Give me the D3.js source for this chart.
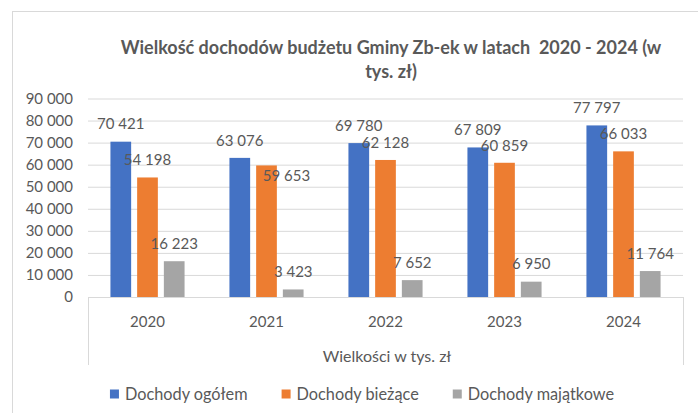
<!DOCTYPE html>
<html>
<head>
<meta charset="utf-8">
<script src="https://cdn.jsdelivr.net/npm/d3@7"></script>
<style>
  body { margin: 0; background: #fff; }
  svg text { font-family: Lato, "Open Sans", sans-serif; fill: #595959; }
</style>
</head>
<body>
<div id="chart"></div>
<script>
// data
const years = ["2020", "2021", "2022", "2023", "2024"];
const seriesNames = ["Dochody ogółem", "Dochody bieżące", "Dochody majątkowe"];
const ogolem = [70421, 63076, 69780, 67809, 77797];
const biezace = [54198, 59653, 62128, 60859, 66033];
const majatkowe = [16223, 3423, 7652, 6950, 11764];
const yTicks = [0, 10000, 20000, 30000, 40000, 50000, 60000, 70000, 80000, 90000];
const titleLines = ["Wielkość dochodów budżetu Gminy Zb-ek w latach  2020 - 2024 (w", "tys. zł)"];
const axisTitle = "Wielkości w tys. zł";

const colors = ["#4472C4", "#ED7D31", "#A5A5A5"];
// one label was dragged by hand in the original
const labelNudge = {"Dochody bieżące|2021": [20, 28]};

const W = 698, H = 413;
const plot = {left: 88, right: 683, top: 98.5, bottom: 297};

const pl = d3.formatLocale({decimal: ",", thousands: " ", grouping: [3], currency: ["", " zł"]});
const fmt = pl.format(",d");

const svg = d3.select("#chart").append("svg")
    .attr("width", W)
    .attr("height", H);

// chart border
svg.append("rect")
    .attr("x", 12.5).attr("y", 11.5)
    .attr("width", 720).attr("height", 420)
    .attr("fill", "none")
    .attr("stroke", "#d9d9d9");

// title
svg.append("g").selectAll("text")
    .data(titleLines)
    .enter().append("text")
        .attr("x", 391)
        .attr("y", (d, i) => 48 + i * 24)
        .attr("dy", "0.35em")
        .attr("text-anchor", "middle")
        .style("font-weight", "bold")
        .style("font-size", "18px")
        .style("white-space", "pre")
        .text(d => d);

// scales
const x0 = d3.scaleBand()
    .domain(years)
    .range([plot.left, plot.right]);

const x1 = d3.scaleBand()
    .domain(seriesNames)
    .range([0, x0.bandwidth()])
    .paddingInner(0.225)
    .paddingOuter(0.84);

const y = d3.scaleLinear()
    .domain([0, 90000])
    .range([plot.bottom, plot.top]);

// gridlines
svg.append("g")
    .attr("class", "grid")
    .attr("transform", `translate(${plot.left},0)`)
    .call(d3.axisLeft(y).tickValues(yTicks.slice(1)).tickSize(-(plot.right - plot.left)).tickFormat(""))
    .call(g => g.select(".domain").remove())
    .call(g => g.selectAll("line").attr("stroke", "#d9d9d9"));

// y tick labels
svg.append("g")
    .attr("transform", `translate(${plot.left},0)`)
    .call(d3.axisLeft(y).tickValues(yTicks).tickSize(0).tickPadding(15).tickFormat(fmt))
    .call(g => g.select(".domain").remove())
    .call(g => g.selectAll("text").style("font-size", "15px").attr("fill", "#595959"));

// category axis box
const cat = svg.append("g").attr("stroke", "#d9d9d9").attr("fill", "none");
cat.append("line")
    .attr("x1", plot.left).attr("x2", plot.right)
    .attr("y1", plot.bottom + 0.5).attr("y2", plot.bottom + 0.5);
cat.selectAll(".side")
    .data([plot.left, plot.right])
    .enter().append("line")
        .attr("x1", d => d + 0.5).attr("x2", d => d + 0.5)
        .attr("y1", plot.bottom).attr("y2", 365);

svg.append("g")
    .attr("transform", `translate(0,${plot.bottom})`)
    .call(d3.axisBottom(x0).tickSize(0).tickPadding(0))
    .call(g => g.select(".domain").remove())
    .call(g => g.selectAll("text")
        .attr("y", 25).attr("dy", "0.35em")
        .style("font-size", "15px").attr("fill", "#595959"));

svg.append("text")
    .attr("x", 387)
    .attr("y", 356)
    .attr("dy", "0.35em")
    .attr("text-anchor", "middle")
    .style("font-size", "16px")
    .text(axisTitle);

// bars
const seriesValues = [ogolem, biezace, majatkowe];
const rows = [];
seriesNames.forEach((s, si) => {
    years.forEach((yr, yi) => {
        rows.push({series: s, si: si, year: yr, value: seriesValues[si][yi]});
    });
});

svg.append("g").selectAll("rect")
    .data(rows)
    .enter().append("rect")
        .attr("x", d => x0(d.year) + x1(d.series))
        .attr("y", d => y(d.value))
        .attr("width", x1.bandwidth())
        .attr("height", d => y(0) - y(d.value))
        .attr("fill", d => colors[d.si]);

// value labels
svg.append("g").selectAll("text")
    .data(rows)
    .enter().append("text")
        .attr("x", d => x0(d.year) + x1(d.series) + x1.bandwidth() / 2 + (labelNudge[d.series + "|" + d.year] || [0, 0])[0])
        .attr("y", d => y(d.value) - 17.5 + (labelNudge[d.series + "|" + d.year] || [0, 0])[1])
        .attr("dy", "0.35em")
        .attr("text-anchor", "middle")
        .style("font-size", "15px")
        .text(d => fmt(d.value));

// legend
const legend = svg.append("g");
const items = legend.selectAll("g")
    .data(seriesNames)
    .enter().append("g");
items.append("rect")
    .attr("width", 9).attr("height", 9)
    .attr("y", -4.5)
    .attr("fill", (d, i) => colors[i]);
items.append("text")
    .attr("x", 15)
    .attr("dy", "0.35em")
    .style("font-size", "16.3px")
    .text(d => d);

const widths = [];
items.each(function() {
    const w = 15 + this.querySelector("text").getComputedTextLength();
    widths.push(w);
});
const gap = 34;
const total = d3.sum(widths) + gap * (widths.length - 1);
let start = 362 - total / 2;
items.attr("transform", (d, i) => {
    const t = `translate(${start},394)`;
    start += widths[i] + gap;
    return t;
});
</script>
</body>
</html>
